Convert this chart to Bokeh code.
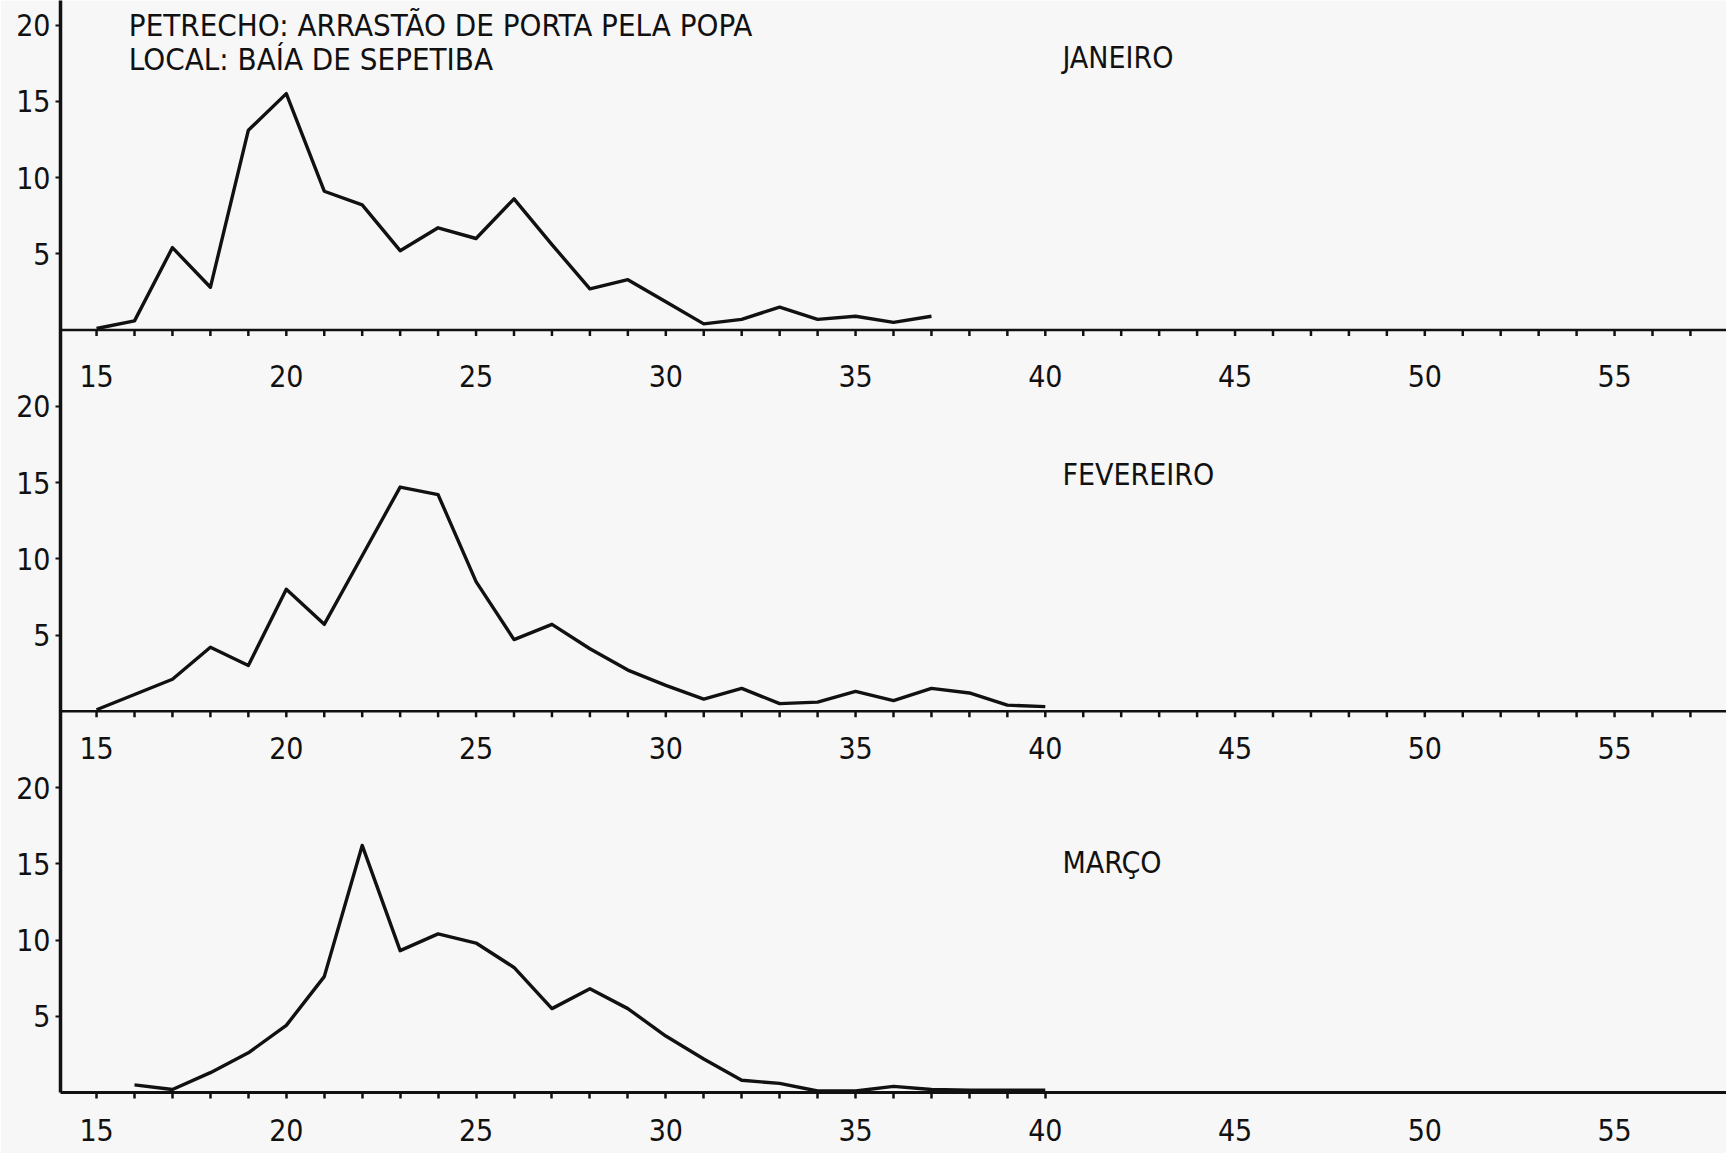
from bokeh.plotting import figure
from bokeh.models import ColumnDataSource, FixedTicker, Span, Label
from bokeh.transform import dodge
from bokeh.core.properties import value
from bokeh.embed import file_html
from bokeh.resources import INLINE

# Frequência (%) por classe de comprimento (cm), arrasto de porta pela popa
comprimento_jan = list(range(15, 38))
freq_jan = [0.1, 0.6, 5.4, 2.8, 13.1, 15.5, 9.1, 8.2, 5.2, 6.7, 6.0, 8.6,
            5.6, 2.7, 3.3, 1.85, 0.4, 0.7, 1.5, 0.7, 0.9, 0.5, 0.9]

comprimento_fev = list(range(15, 41))
freq_fev = [0.1, 1.1, 2.1, 4.2, 3.0, 8.0, 5.7, 10.2, 14.7, 14.2, 8.5, 4.7,
            5.7, 4.1, 2.7, 1.7, 0.8, 1.5, 0.5, 0.6, 1.3, 0.7, 1.5, 1.2, 0.4, 0.3]

comprimento_mar = list(range(16, 41))
freq_mar = [0.5, 0.2, 1.3, 2.6, 4.4, 7.6, 16.2, 9.3, 10.4, 9.8, 8.2, 5.5,
            6.8, 5.5, 3.7, 2.2, 0.8, 0.6, 0.1, 0.1, 0.4, 0.2, 0.15, 0.15, 0.15]

meses = ["JANEIRO", "FEVEREIRO", "MARÇO"]
ticks_freq = [5, 10, 15, 20]
ticks_comp = [15, 20, 25, 30, 35, 40, 45, 50, 55]
titulo = ["PETRECHO: ARRASTÃO DE PORTA PELA POPA", "LOCAL: BAÍA DE SEPETIBA"]

FONT = "DejaVu Sans Condensed"
INK = "#111111"
PAPER = "#f7f7f7"
FS = "30px"
FS_TITLE = "31px"

W, H = 1726, 1153
BORDER_L, BORDER_B = 60, 61
PX_UNIT = 15.25          # pixels per frequency unit
frame_h = H - BORDER_B
y_top = frame_h / PX_UNIT

# each month sits on its own baseline, stacked top to bottom
offsets = [50, 25, 0]
series = [(comprimento_jan, freq_jan), (comprimento_fev, freq_fev), (comprimento_mar, freq_mar)]

p = figure(width=W, height=H, output_backend="svg", toolbar_location=None,
           x_range=(14.05, 57.95), y_range=(0, y_top),
           min_border_left=BORDER_L, min_border_bottom=BORDER_B,
           min_border_top=0, min_border_right=0)
p.background_fill_color = PAPER
p.border_fill_color = PAPER
p.outline_line_color = None
p.grid.visible = False

# vertical frequency axis shared by the three months
yax = p.yaxis[0]
yt = [o + t for o in offsets for t in ticks_freq]
yax.ticker = FixedTicker(ticks=yt, minor_ticks=[])
yax.major_label_overrides = {o + t: str(t) for o in offsets for t in ticks_freq}
yax.axis_line_width = 3.5
yax.axis_line_color = INK
yax.major_tick_line_color = INK
yax.major_tick_line_width = 2
yax.major_tick_out = 5
yax.major_tick_in = 0
yax.major_label_standoff = 5
yax.major_label_text_font = FONT
yax.major_label_text_font_size = FS
yax.major_label_text_color = INK

# length axis of the bottom month
xax = p.xaxis[0]
xax.ticker = FixedTicker(ticks=ticks_comp, minor_ticks=list(range(15, 41)))
xax.axis_line_width = 3
xax.axis_line_color = INK
xax.major_tick_out = 0
xax.major_tick_in = 0
xax.minor_tick_out = 6
xax.minor_tick_in = 0
xax.minor_tick_line_width = 2.5
xax.minor_tick_line_color = INK
xax.major_label_standoff = 20
xax.major_label_text_font = FONT
xax.major_label_text_font_size = FS
xax.major_label_text_color = INK

# length axes of the upper months: baseline, unit ticks and labels
label_drop = [46, 37]
tick_units = 6 / PX_UNIT
marks = list(range(15, 58))
for off, drop in zip(offsets[:2], label_drop):
    p.add_layout(Span(location=off, dimension="width", line_color=INK, line_width=2.5))
    tsrc = ColumnDataSource(dict(x=marks, y0=[off] * len(marks), y1=[off - tick_units] * len(marks)))
    p.segment(x0="x", y0="y0", x1="x", y1="y1", source=tsrc, line_color=INK, line_width=2.5)
    lsrc = ColumnDataSource(dict(x=ticks_comp, y=[off] * len(ticks_comp), t=[str(v) for v in ticks_comp]))
    p.text(x="x", y="y", text="t", source=lsrc, y_offset=drop,
           text_font=value(FONT), text_font_size=FS, text_color=INK,
           text_align="center", text_baseline="middle")

# frequency curves
for (comp, freq), off in zip(series, offsets):
    src = ColumnDataSource(dict(comp=comp, freq=freq))
    p.line(x="comp", y=dodge("freq", off), source=src, line_color=INK,
           line_width=3.4, line_join="round")

# month names
name_rise = [17.9, 15.5, 15.1]
for name, off, rise in zip(meses, offsets, name_rise):
    p.add_layout(Label(x=40.45, y=off + rise, text=name, text_font=FONT,
                       text_font_size=FS, text_color=INK, text_baseline="middle"))

# header
for line, yy in zip(titulo, [y_top - 24 / PX_UNIT, y_top - 58 / PX_UNIT]):
    p.add_layout(Label(x=15.85, y=yy, text=line, text_font=FONT,
                       text_font_size=FS_TITLE, text_color=INK, text_baseline="alphabetic"))

open("out.html", "w").write(file_html(p, INLINE))
